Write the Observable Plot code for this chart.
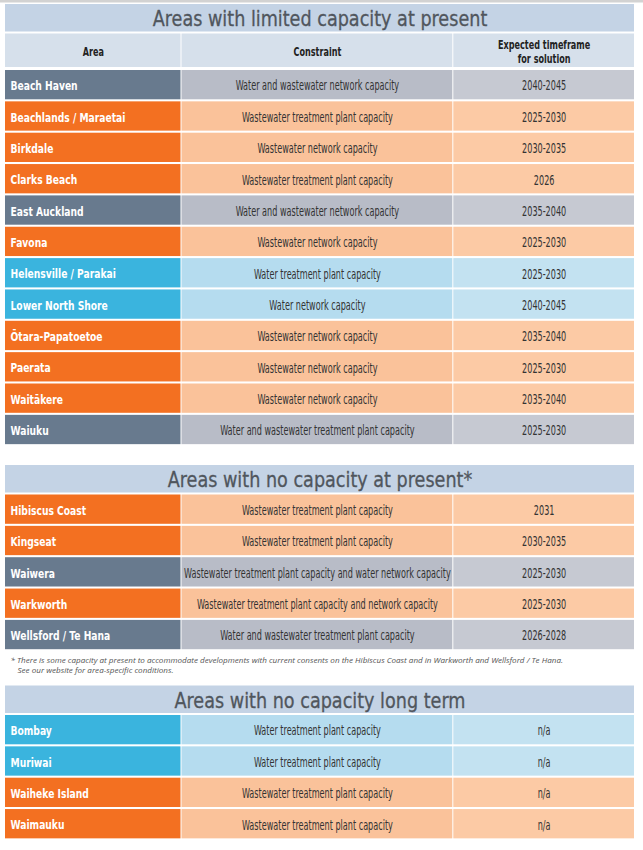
<!DOCTYPE html>
<html><head><meta charset="utf-8">
<script src="https://cdn.jsdelivr.net/npm/d3@7"></script>
<script src="https://cdn.jsdelivr.net/npm/@observablehq/plot@0.6"></script>
<style>body{margin:0;background:#fff}#chart svg{display:block}</style>
</head><body><div id="chart"></div>
<script>
// ---------- DATA ----------
const sectionTitles = [
  "Areas with limited capacity at present",
  "Areas with no capacity at present*",
  "Areas with no capacity long term"
];
const headerLabels = ["Area", "Constraint", "Expected timeframe\nfor solution"];

const areas1 = ["Beach Haven","Beachlands / Maraetai","Birkdale","Clarks Beach","East Auckland","Favona","Helensville / Parakai","Lower North Shore","Ōtara-Papatoetoe","Paerata","Waitākere","Waiuku"];
const constraints1 = ["Water and wastewater network capacity","Wastewater treatment plant capacity","Wastewater network capacity","Wastewater treatment plant capacity","Water and wastewater network capacity","Wastewater network capacity","Water treatment plant capacity","Water network capacity","Wastewater network capacity","Wastewater network capacity","Wastewater network capacity","Water and wastewater treatment plant capacity"];
const timeframes1 = ["2040-2045","2025-2030","2030-2035","2026","2035-2040","2025-2030","2025-2030","2040-2045","2035-2040","2025-2030","2035-2040","2025-2030"];
const types1 = ["both","wastewater","wastewater","wastewater","both","wastewater","water","water","wastewater","wastewater","wastewater","both"];

const areas2 = ["Hibiscus Coast","Kingseat","Waiwera","Warkworth","Wellsford / Te Hana"];
const constraints2 = ["Wastewater treatment plant capacity","Wastewater treatment plant capacity","Wastewater treatment plant capacity and water network capacity","Wastewater treatment plant capacity and network capacity","Water and wastewater treatment plant capacity"];
const timeframes2 = ["2031","2030-2035","2025-2030","2025-2030","2026-2028"];
const types2 = ["wastewater","wastewater","both","wastewater","both"];

const areas3 = ["Bombay","Muriwai","Waiheke Island","Waimauku"];
const constraints3 = ["Water treatment plant capacity","Water treatment plant capacity","Wastewater treatment plant capacity","Wastewater treatment plant capacity"];
const timeframes3 = ["n/a","n/a","n/a","n/a"];
const types3 = ["water","water","wastewater","wastewater"];

const footnoteLines = [
  "* There is some capacity at present to accommodate developments with current consents on the Hibiscus Coast and in Warkworth and Wellsford / Te Hana.",
  "See our website for area-specific conditions."
];

// ---------- STYLE ----------
const typeColors = {
  both:       ["#687a8e", "#b8bcc7", "#c6c9d2"],
  wastewater: ["#f37021", "#fac29a", "#fccaa5"],
  water:      ["#3ab4de", "#b5dcef", "#c3e2f1"]
};
const titleFill = "#c4d3e5", headerFill = "#d6e0eb";
const W = 643, H = 850;
const colEdges = [[5,180.5],[181.5,452.3],[453.3,634]];
const TITLE_H = 27.5, HEADER_H = 33.5, ROW_PITCH = 31.35, ROW_H = 29.3;
const condensed = "'DejaVu Sans Condensed','DejaVu Sans',sans-serif";

// ---------- LAYOUT (computed) ----------
const sections = [
  {title: sectionTitles[0], areas: areas1, cons: constraints1, times: timeframes1, types: types1, header: true},
  {title: sectionTitles[1], areas: areas2, cons: constraints2, times: timeframes2, types: types2, header: false, foot: true},
  {title: sectionTitles[2], areas: areas3, cons: constraints3, times: timeframes3, types: types3, header: false}
];
const gapsBefore = [4, 20.85, 36.3];
const titles = [], headers = [], cells = [], foot = [];
let y = 0;
sections.forEach((s, si) => {
  y += gapsBefore[si];
  titles.push({y1: y, y2: y + TITLE_H, text: s.title});
  y += TITLE_H + 2;
  if (s.header) {
    headerLabels.forEach((h, ci) => headers.push({x1: colEdges[ci][0], x2: colEdges[ci][1], y1: y, y2: y + HEADER_H, text: h}));
    y += HEADER_H + 3;
  }
  s.areas.forEach((a, i) => {
    const y1 = y + i * ROW_PITCH, y2 = y1 + ROW_H;
    [a, s.cons[i], s.times[i]].forEach((v, ci) => {
      cells.push({x1: colEdges[ci][0], x2: colEdges[ci][1], y1, y2, fill: typeColors[s.types[i]][ci], text: v, col: ci});
    });
  });
  y += (s.areas.length - 1) * ROW_PITCH + ROW_H;
  if (s.foot) {
    foot.push({x: 10, y: y + 11, text: footnoteLines[0]});
    foot.push({x: 17, y: y + 20.5, text: footnoteLines[1]});
  }
});
const mid = d => (d.y1 + d.y2) / 2 + 1;

const chart = Plot.plot({
  width: W, height: H,
  margin: 0,
  x: {domain: [0, W], range: [0, W], axis: null},
  y: {domain: [0, H], range: [0, H], axis: null},
  marks: [
    Plot.rect([{}], {x1: 0, x2: W, y1: 0, y2: 2.5, fill: "#d2d2d2"}),
    Plot.rect(titles, {x1: colEdges[0][0], x2: colEdges[2][1], y1: "y1", y2: "y2", fill: titleFill}),
    Plot.text(titles, {x: (colEdges[0][0] + colEdges[2][1]) / 2, y: mid, text: "text", fill: "#50565d", fontSize: 22, fontFamily: condensed, stroke: "#50565d", strokeWidth: 0.3}),
    Plot.rect(headers, {x1: "x1", x2: "x2", y1: "y1", y2: "y2", fill: headerFill}),
    Plot.text(headers, {x: d => (d.x1 + d.x2) / 2, y: mid, text: "text", fill: "#222", fontSize: 12, fontWeight: "bold", fontFamily: condensed, lineHeight: 1.15}),
    Plot.rect(cells, {x1: "x1", x2: "x2", y1: "y1", y2: "y2", fill: "fill"}),
    Plot.text(cells.filter(d => d.col === 0), {x: d => d.x1 + 5, y: mid, text: "text", textAnchor: "start", fill: "white", fontSize: 13, fontWeight: "bold", fontFamily: condensed}),
    Plot.text(cells.filter(d => d.col > 0), {x: d => (d.x1 + d.x2) / 2, y: mid, text: "text", fill: "#333", fontSize: 13.5, fontFamily: condensed}),
    Plot.text(foot, {x: "x", y: "y", text: "text", textAnchor: "start", fill: "#555", fontSize: 8, fontStyle: "italic", fontFamily: "'Open Sans',sans-serif"})
  ]
});
document.getElementById("chart").appendChild(chart);

// Condense text horizontally (no narrow font available offline)
const squeeze = [0.89, 0.75, 0.785, 0.667, 1.012];
d3.select(chart).selectAll("g[aria-label='text']").each(function(_, gi) {
  const sx = squeeze[gi] ?? 1;
  if (sx === 1) return;
  d3.select(this).selectAll("text").each(function() {
    const t = this;
    const tr = t.getAttribute("transform");
    if (tr) t.setAttribute("transform", tr + ` scale(${sx},1)`);
    else {
      const x = +t.getAttribute("x") || 0, yy = +t.getAttribute("y") || 0;
      t.setAttribute("transform", `translate(${x},${yy}) scale(${sx},1) translate(${-x},${-yy})`);
    }
  });
});
</script>
</body></html>
